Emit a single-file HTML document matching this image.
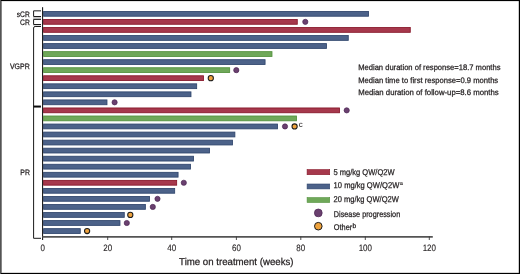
<!DOCTYPE html>
<html><head><meta charset="utf-8"><style>
html,body{margin:0;padding:0;background:#fff;}
body{width:520px;height:274px;overflow:hidden;position:relative;}
svg{position:absolute;left:0;top:0;will-change:transform;}
text{font-family:"Liberation Sans",sans-serif;fill:#231f20;stroke:#231f20;stroke-width:0.25px;text-rendering:geometricPrecision;}
</style></head><body>
<svg width="520" height="274" viewBox="0 0 520 274">
<rect x="0" y="0" width="520" height="274" fill="#fff"/>
<!-- border -->
<rect x="0" y="0" width="520" height="1.1" fill="#000"/>
<rect x="518.8" y="0" width="1.2" height="274" fill="#000"/>
<rect x="1" y="272.85" width="519" height="1.15" fill="#000"/>
<rect x="0" y="0" width="1" height="274" fill="#545454"/>
<rect x="1" y="1" width="1" height="272" fill="#858585"/>
<!-- y labels -->
<g font-size="7.9">
<text x="16.8" y="16.6" textLength="12.9" lengthAdjust="spacingAndGlyphs">sCR</text>
<text x="20.1" y="24.6" textLength="9.7" lengthAdjust="spacingAndGlyphs">CR</text>
<text x="9.9" y="68.6" textLength="19.8" lengthAdjust="spacingAndGlyphs">VGPR</text>
<text x="20.3" y="174.9" textLength="9.6" lengthAdjust="spacingAndGlyphs">PR</text>
</g>
<!-- brackets -->
<rect x="33.1" y="17" width="7.9" height="2" fill="#cbcbcb"/>
<rect x="33.1" y="25" width="7.9" height="1" fill="#dedede"/>
<g fill="none" stroke="#1a1a1a" stroke-width="1">
<path d="M41 10.85 H33.6 V16.5 H41"/>
<path d="M41 19.4 H33.6 V24.5 H41"/>
<path d="M41 26.5 H35.1 Q33.6 26.5 33.6 28 V238.3 H41"/>
</g>
<line x1="33.6" y1="106.55" x2="40.9" y2="106.55" stroke="#0a0a0a" stroke-width="2"/>
<!-- axes -->
<line x1="42.55" y1="7.2" x2="42.55" y2="240" stroke="#1e1e1e" stroke-width="1.15"/>
<line x1="42.3" y1="236.85" x2="432.8" y2="236.85" stroke="#545454" stroke-width="1.8"/>
<text x="42.75" y="251" text-anchor="middle" font-size="9.2" style="stroke-width:0.12px" textLength="4.45" lengthAdjust="spacingAndGlyphs">0</text>
<line x1="107.70" y1="236.5" x2="107.70" y2="240" stroke="#3a3a3a" stroke-width="0.9"/>
<text x="107.70" y="251" text-anchor="middle" font-size="9.2" style="stroke-width:0.12px" textLength="8.90" lengthAdjust="spacingAndGlyphs">20</text>
<line x1="171.70" y1="236.5" x2="171.70" y2="240" stroke="#3a3a3a" stroke-width="0.9"/>
<text x="171.70" y="251" text-anchor="middle" font-size="9.2" style="stroke-width:0.12px" textLength="8.90" lengthAdjust="spacingAndGlyphs">40</text>
<line x1="236.40" y1="236.5" x2="236.40" y2="240" stroke="#3a3a3a" stroke-width="0.9"/>
<text x="236.40" y="251" text-anchor="middle" font-size="9.2" style="stroke-width:0.12px" textLength="8.90" lengthAdjust="spacingAndGlyphs">60</text>
<line x1="300.80" y1="236.5" x2="300.80" y2="240" stroke="#3a3a3a" stroke-width="0.9"/>
<text x="300.80" y="251" text-anchor="middle" font-size="9.2" style="stroke-width:0.12px" textLength="8.90" lengthAdjust="spacingAndGlyphs">80</text>
<line x1="365.30" y1="236.5" x2="365.30" y2="240" stroke="#3a3a3a" stroke-width="0.9"/>
<text x="365.30" y="251" text-anchor="middle" font-size="9.2" style="stroke-width:0.12px" textLength="13.35" lengthAdjust="spacingAndGlyphs">100</text>
<line x1="429.30" y1="236.5" x2="429.30" y2="240" stroke="#3a3a3a" stroke-width="0.9"/>
<text x="429.30" y="251" text-anchor="middle" font-size="9.2" style="stroke-width:0.12px" textLength="13.35" lengthAdjust="spacingAndGlyphs">120</text>
<rect x="43.62" y="11.43" width="324.95" height="4.80" fill="#4c6289" stroke="#2f456c" stroke-width="0.85"/>
<rect x="43.62" y="19.47" width="253.65" height="4.80" fill="#a6384c" stroke="#861629" stroke-width="0.85"/>
<circle cx="305.3" cy="21.87" r="2.6" fill="#6a406f" stroke="#4a2451" stroke-width="0.7"/>
<rect x="43.62" y="27.52" width="366.65" height="4.80" fill="#a6384c" stroke="#861629" stroke-width="0.85"/>
<rect x="43.62" y="35.56" width="304.65" height="4.80" fill="#4c6289" stroke="#2f456c" stroke-width="0.85"/>
<rect x="43.62" y="43.60" width="282.85" height="4.80" fill="#4c6289" stroke="#2f456c" stroke-width="0.85"/>
<rect x="43.62" y="51.65" width="228.35" height="4.80" fill="#6fa859" stroke="#52913c" stroke-width="0.85"/>
<rect x="43.62" y="59.69" width="221.45" height="4.80" fill="#4c6289" stroke="#2f456c" stroke-width="0.85"/>
<rect x="43.62" y="67.74" width="186.05" height="4.80" fill="#6fa859" stroke="#52913c" stroke-width="0.85"/>
<circle cx="236.3" cy="70.14" r="2.6" fill="#6a406f" stroke="#4a2451" stroke-width="0.7"/>
<rect x="43.62" y="75.78" width="159.85" height="4.80" fill="#a6384c" stroke="#861629" stroke-width="0.85"/>
<circle cx="210.8" cy="78.19" r="2.6" fill="#eea23c" stroke="#1c1c1c" stroke-width="1.05"/>
<rect x="43.62" y="83.83" width="153.05" height="4.80" fill="#4c6289" stroke="#2f456c" stroke-width="0.85"/>
<rect x="43.62" y="91.88" width="147.35" height="4.80" fill="#4c6289" stroke="#2f456c" stroke-width="0.85"/>
<rect x="43.62" y="99.92" width="63.35" height="4.80" fill="#4c6289" stroke="#2f456c" stroke-width="0.85"/>
<circle cx="114.6" cy="102.32" r="2.6" fill="#6a406f" stroke="#4a2451" stroke-width="0.7"/>
<rect x="43.62" y="107.96" width="295.85" height="4.80" fill="#a6384c" stroke="#861629" stroke-width="0.85"/>
<circle cx="346.7" cy="110.36" r="2.6" fill="#6a406f" stroke="#4a2451" stroke-width="0.7"/>
<rect x="43.62" y="116.01" width="252.95" height="4.80" fill="#6fa859" stroke="#52913c" stroke-width="0.85"/>
<rect x="43.62" y="124.05" width="233.95" height="4.80" fill="#4c6289" stroke="#2f456c" stroke-width="0.85"/>
<circle cx="285.0" cy="126.45" r="2.6" fill="#6a406f" stroke="#4a2451" stroke-width="0.7"/>
<circle cx="294.6" cy="126.45" r="2.6" fill="#eea23c" stroke="#1c1c1c" stroke-width="1.05"/>
<rect x="43.62" y="132.10" width="191.25" height="4.80" fill="#4c6289" stroke="#2f456c" stroke-width="0.85"/>
<rect x="43.62" y="140.15" width="188.85" height="4.80" fill="#4c6289" stroke="#2f456c" stroke-width="0.85"/>
<rect x="43.62" y="148.19" width="165.95" height="4.80" fill="#4c6289" stroke="#2f456c" stroke-width="0.85"/>
<rect x="43.62" y="156.24" width="149.95" height="4.80" fill="#4c6289" stroke="#2f456c" stroke-width="0.85"/>
<rect x="43.62" y="164.28" width="146.85" height="4.80" fill="#4c6289" stroke="#2f456c" stroke-width="0.85"/>
<rect x="43.62" y="172.33" width="134.45" height="4.80" fill="#4c6289" stroke="#2f456c" stroke-width="0.85"/>
<rect x="43.62" y="180.37" width="133.05" height="4.80" fill="#a6384c" stroke="#861629" stroke-width="0.85"/>
<circle cx="183.8" cy="182.77" r="2.6" fill="#6a406f" stroke="#4a2451" stroke-width="0.7"/>
<rect x="43.62" y="188.42" width="131.05" height="4.80" fill="#4c6289" stroke="#2f456c" stroke-width="0.85"/>
<rect x="43.62" y="196.46" width="105.95" height="4.80" fill="#4c6289" stroke="#2f456c" stroke-width="0.85"/>
<circle cx="157.5" cy="198.86" r="2.6" fill="#6a406f" stroke="#4a2451" stroke-width="0.7"/>
<rect x="43.62" y="204.50" width="101.75" height="4.80" fill="#4c6289" stroke="#2f456c" stroke-width="0.85"/>
<circle cx="152.8" cy="206.90" r="2.6" fill="#6a406f" stroke="#4a2451" stroke-width="0.7"/>
<rect x="43.62" y="212.55" width="80.65" height="4.80" fill="#4c6289" stroke="#2f456c" stroke-width="0.85"/>
<circle cx="130.3" cy="214.95" r="2.6" fill="#eea23c" stroke="#1c1c1c" stroke-width="1.05"/>
<rect x="43.62" y="220.59" width="76.35" height="4.80" fill="#4c6289" stroke="#2f456c" stroke-width="0.85"/>
<circle cx="126.8" cy="222.99" r="2.6" fill="#6a406f" stroke="#4a2451" stroke-width="0.7"/>
<rect x="43.62" y="228.64" width="36.65" height="4.80" fill="#4c6289" stroke="#2f456c" stroke-width="0.85"/>
<circle cx="87.1" cy="231.04" r="2.6" fill="#eea23c" stroke="#1c1c1c" stroke-width="1.05"/>
<text x="298.7" y="126.7" font-size="8" style="stroke-width:0">c</text>
<!-- annotations -->
<g font-size="8">
<text x="358.2" y="69.8" textLength="142.3" lengthAdjust="spacingAndGlyphs">Median duration of response=18.7 months</text>
<text x="358.2" y="82.6" textLength="140" lengthAdjust="spacingAndGlyphs">Median time to first response=0.9 months</text>
<text x="358.2" y="94.8" textLength="140.5" lengthAdjust="spacingAndGlyphs">Median duration of follow-up=8.6 months</text>
</g>
<!-- legend -->
<rect x="307.1" y="169.6" width="22.6" height="5.1" fill="#a6384c" stroke="#861629" stroke-width="0.6"/>
<rect x="307.1" y="184.0" width="22.6" height="4.9" fill="#4c6289" stroke="#2f456c" stroke-width="0.6"/>
<rect x="307.1" y="197.6" width="22.6" height="4.9" fill="#6fa859" stroke="#52913c" stroke-width="0.6"/>
<circle cx="318.3" cy="212.9" r="3.9" fill="#6a406f" stroke="#4a2451" stroke-width="0.7"/>
<circle cx="318.3" cy="226.2" r="3.8" fill="#eea23c" stroke="#1c1c1c" stroke-width="1"/>
<g font-size="8.4">
<text x="333.4" y="174.8" textLength="61.2" lengthAdjust="spacingAndGlyphs">5 mg/kg QW/Q2W</text>
<text x="333.6" y="188.3" textLength="65.7" lengthAdjust="spacingAndGlyphs">10 mg/kg QW/Q2W</text>
<text x="399.8" y="185.1" font-size="5.6" style="stroke-width:0.15px">a</text>
<text x="333.6" y="202.1" textLength="65.2" lengthAdjust="spacingAndGlyphs">20 mg/kg QW/Q2W</text>
<text x="333.8" y="217.0" textLength="66.4" lengthAdjust="spacingAndGlyphs">Disease progression</text>
<text x="333.8" y="230.0" textLength="18.4" lengthAdjust="spacingAndGlyphs">Other</text>
<text x="352.4" y="227.6" font-size="6.6">b</text>
</g>
<text x="179.1" y="264.7" font-size="9.9" textLength="114.4" lengthAdjust="spacingAndGlyphs">Time on treatment (weeks)</text>
</svg>
</body></html>
